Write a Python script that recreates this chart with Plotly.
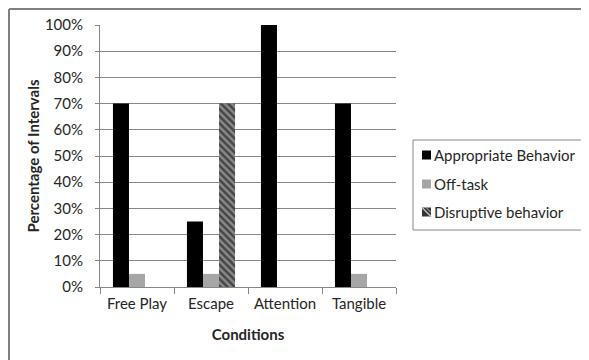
import plotly.graph_objects as go

categories = ["Free Play", "Escape", "Attention", "Tangible"]
appropriate = [70, 25, 100, 70]
off_task = [5, 5, 0, 5]
disruptive = [0, 70, 0, 0]
series_names = ["Appropriate Behavior", "Off-task", "Disruptive behavior"]
y_ticks = [0, 10, 20, 30, 40, 50, 60, 70, 80, 90, 100]
y_tick_labels = [f"{v}%" for v in y_ticks]

FONT = "Lato, Calibri, Carlito, sans-serif"
TXT = "#262626"
GRID = "#868686"

# page body has an 8px margin; compensate so plot area lands at x 100-396, y 25-287
W, H = 581, 352
L, R, T, B = 92, 193, 17, 73
PW = W - L - R
PH = H - T - B


def px(xabs):
    return (xabs - 8 - L) / PW


def py(yabs):
    return (H - B - (yabs - 8)) / PH


fig = go.Figure()
fig.add_trace(go.Bar(x=categories, y=appropriate, name=series_names[0],
                     marker=dict(color="#000000", line=dict(width=0))))
fig.add_trace(go.Bar(x=categories, y=off_task, name=series_names[1],
                     marker=dict(color="#a6a6a6", line=dict(width=0))))
fig.add_trace(go.Bar(x=categories, y=disruptive, name=series_names[2],
                     marker=dict(color="#808080", line=dict(width=0),
                                 pattern=dict(shape="\\", fgcolor="#000000", bgcolor="#8a8a8a",
                                              size=5, solidity=0.5))))

shapes = [
    # outer chart border (top and left visible)
    dict(type="line", xref="paper", yref="paper", x0=px(9), x1=px(700), y0=py(9), y1=py(9),
         line=dict(color="#7f7f7f", width=2)),
    dict(type="line", xref="paper", yref="paper", x0=px(9), x1=px(9), y0=py(9), y1=py(500),
         line=dict(color="#7f7f7f", width=2)),
    # legend box
    dict(type="rect", xref="paper", yref="paper", x0=px(413), x1=px(587), y0=py(230), y1=py(140),
         line=dict(color=GRID, width=1), fillcolor="white"),
]
row_y = [155, 184, 212]
sym_fill = ["#000000", "#a6a6a6", "#333333"]
for i, yc in enumerate(row_y):
    shapes.append(dict(type="rect", xref="paper", yref="paper",
                       x0=px(422), x1=px(431), y0=py(yc + 4.5), y1=py(yc - 4.5),
                       line=dict(width=0), fillcolor=sym_fill[i]))
# hatch stripes in the disruptive legend symbol
shapes.append(dict(type="line", xref="paper", yref="paper",
                   x0=px(422), x1=px(431), y0=py(212 - 4.5), y1=py(212 + 4.5),
                   line=dict(color="#bfbfbf", width=1.5)))
shapes.append(dict(type="line", xref="paper", yref="paper",
                   x0=px(426), x1=px(431), y0=py(212 - 4.5), y1=py(212 + 0.5),
                   line=dict(color="#bfbfbf", width=1)))

annotations = []
for i, yc in enumerate(row_y):
    annotations.append(dict(text=series_names[i], xref="paper", yref="paper",
                            x=px(432), y=py(yc), xanchor="left", yanchor="middle",
                            showarrow=False, font=dict(family=FONT, size=15, color=TXT)))

fig.update_layout(
    width=W, height=H,
    margin=dict(l=L, r=R, t=T, b=B, autoexpand=False),
    paper_bgcolor="white", plot_bgcolor="white",
    barmode="group", bargap=0.35, bargroupgap=0,
    font=dict(family=FONT, size=15, color=TXT),
    showlegend=False,
    xaxis=dict(showline=True, linecolor=GRID, linewidth=1,
               ticks="outside", tickson="boundaries", ticklen=6, tickcolor=GRID,
               ticklabelstandoff=3,
               showgrid=False, automargin=False,
               title=dict(text="<b>Conditions</b>", font=dict(family=FONT, size=15, color=TXT), standoff=18)),
    yaxis=dict(range=[0, 100], tickvals=y_ticks, ticktext=y_tick_labels,
               showline=True, linecolor=GRID, linewidth=1,
               ticks="outside", ticklen=4, tickcolor=GRID,
               ticklabelstandoff=9,
               showgrid=True, gridcolor=GRID, gridwidth=1, zeroline=False, automargin=False,
               title=dict(text="<b>Percentage of Intervals</b>", font=dict(family=FONT, size=15, color=TXT), standoff=1)),
    shapes=shapes,
    annotations=annotations,
)

fig.write_html("out.html")
